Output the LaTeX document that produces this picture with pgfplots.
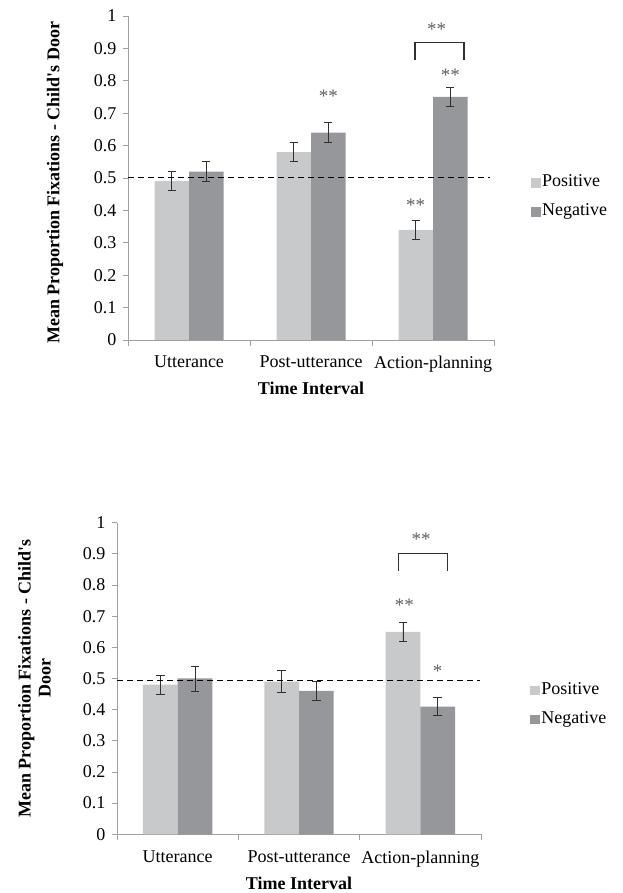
\documentclass[border=0pt]{standalone}
\usepackage{fontspec}
\setmainfont{Liberation Serif}
\usepackage{pgfplots}
\pgfplotsset{compat=1.18}
\usepackage{pgfplotstable}
\definecolor{poscol}{HTML}{C8C9CB}
\definecolor{negcol}{HTML}{96979B}
\definecolor{axisgray}{HTML}{A0A0A0}
\definecolor{stargray}{HTML}{5E5E5E}
\definecolor{errc}{HTML}{303030}

\pgfplotstableread{
x y e
0 0.49 0.03
1 0.58 0.03
2 0.34 0.03
}\topPos
\pgfplotstableread{
x y e
0 0.52 0.03
1 0.64 0.03
2 0.75 0.03
}\topNeg
\pgfplotstableread{
x y e
0 0.48 0.03
1 0.49 0.035
2 0.65 0.03
}\botPos
\pgfplotstableread{
x y e
0 0.50 0.04
1 0.46 0.03
2 0.41 0.03
}\botNeg

\newcommand{\lbl}{\fontsize{18}{20}\selectfont}
\newcommand{\stars}{\fontsize{19}{20}\selectfont}

\pgfplotsset{
  mystyle/.style={
    scale only axis,
    xmin=-0.5, xmax=2.5, ymin=0, ymax=1,
    axis x line*=bottom, axis y line*=left,
    axis line style={axisgray, line width=0.9pt},
    tick align=outside,
    major tick length=5pt,
    minor tick length=6pt,
    ytick={0,0.1,0.2,0.3,0.4,0.5,0.6,0.7,0.8,0.9,1},
    yticklabels={0,0.1,0.2,0.3,0.4,0.5,0.6,0.7,0.8,0.9,1},
    ytick style={axisgray, line width=0.9pt},
    xtick={0,1,2},
    xticklabels={Utterance,Post-utterance,Action-planning},
    major x tick style={draw=none},
    minor xtick={-0.5,0.5,1.5,2.5},
    minor x tick style={axisgray, line width=0.9pt},
    tick label style={font=\lbl},
    yticklabel style={xshift=-3pt},
    label style={font=\lbl\bfseries},
    ybar=0pt,
    clip=false,
    legend style={draw=none, fill=none, anchor=west, font=\lbl,
      row sep=11pt, inner sep=0pt,
      nodes={inner sep=1pt, anchor=west, text height=12pt, text depth=4pt}},
    legend cell align=left,
  },
  errstyle/.style={
    error bars/.cd, y dir=both, y explicit,
    error bar style={errc, line width=0.9pt},
    error mark options={rotate=90, mark size=4.2pt, errc, line width=0.9pt},
  },
  posleg/.style={legend image code/.code={\fill[poscol] (0pt,-5pt) rectangle (10pt,4.5pt);}},
  negleg/.style={legend image code/.code={\fill[negcol] (0pt,-5pt) rectangle (10pt,4.5pt);}},
}

\begin{document}
\begin{tikzpicture}[x=1pt,y=1pt]
\path[use as bounding box] (0,0) rectangle (622,893);

% ---------------- top chart ----------------
\begin{axis}[mystyle,
  at={(128pt,553pt)}, anchor=south west,
  width=366pt, height=324pt,
  bar width=34.5pt,
  xticklabel style={yshift=-7pt},
  xlabel={Time Interval},
  xlabel style={at={(axis description cs:0.5,-0.148)}, anchor=center},
  ylabel={Mean Proportion Fixations - Child\textquotesingle s Door},
  ylabel style={at={(axis description cs:-0.199,0.485)}, anchor=center, rotate=0},
  legend style={at={(axis description cs:1.101,0.44)}},
]
\addplot[fill=poscol, draw=none, posleg, errstyle]
  table[x=x, y=y, y error=e]{\topPos};
\addlegendentry{Positive}
\addplot[fill=negcol, draw=none, negleg, errstyle]
  table[x=x, y=y, y error=e]{\topNeg};
\addlegendentry{Negative}
\addplot[sharp plot, black, line width=1pt, dash pattern=on 6pt off 4pt, forget plot]
  coordinates {(-0.5,0.5) (2.467,0.5)};
\draw[errc, line width=1.2pt] (axis cs:1.852,0.864) -- (axis cs:1.852,0.917) -- (axis cs:2.254,0.917) -- (axis cs:2.254,0.864);
\node[font=\stars, text=stargray, yshift=-3pt] at (axis cs:1.1415,0.762) {**};
\node[font=\stars, text=stargray, yshift=-3pt] at (axis cs:1.8585,0.426) {**};
\node[font=\stars, text=stargray, yshift=-3pt] at (axis cs:2.1415,0.827) {**};
\node[font=\stars, text=stargray, yshift=-3pt] at (axis cs:2.03,0.969) {**};
\end{axis}

% ---------------- bottom chart ----------------
\begin{axis}[mystyle,
  at={(117pt,58.7pt)}, anchor=south west,
  width=364pt, height=311.6pt,
  bar width=34.7pt,
  xticklabel style={yshift=-8pt},
  xlabel={Time Interval},
  xlabel style={at={(axis description cs:0.5,-0.156)}, anchor=center},
  ylabel={Mean Proportion Fixations - Child\textquotesingle s\\Door},
  ylabel style={at={(axis description cs:-0.227,0.5)}, anchor=center, align=center},
  legend style={at={(axis description cs:1.135,0.415)}},
]
\addplot[fill=poscol, draw=none, posleg, errstyle]
  table[x=x, y=y, y error=e]{\botPos};
\addlegendentry{Positive}
\addplot[fill=negcol, draw=none, negleg, errstyle]
  table[x=x, y=y, y error=e]{\botNeg};
\addlegendentry{Negative}
\addplot[sharp plot, black, line width=1pt, dash pattern=on 6pt off 4pt, forget plot]
  coordinates {(-0.5,0.495) (2.49,0.495)};
\draw[errc, line width=1.2pt] (axis cs:1.819,0.846) -- (axis cs:1.819,0.90) -- (axis cs:2.226,0.90) -- (axis cs:2.226,0.846);
\node[font=\stars, text=stargray, yshift=-3pt] at (axis cs:2.006,0.957) {**};
\node[font=\stars, text=stargray, yshift=-3pt] at (axis cs:1.868,0.746) {**};
\node[font=\stars, text=stargray, yshift=-3pt] at (axis cs:2.143,0.533) {*};
\end{axis}
\end{tikzpicture}
\end{document}
